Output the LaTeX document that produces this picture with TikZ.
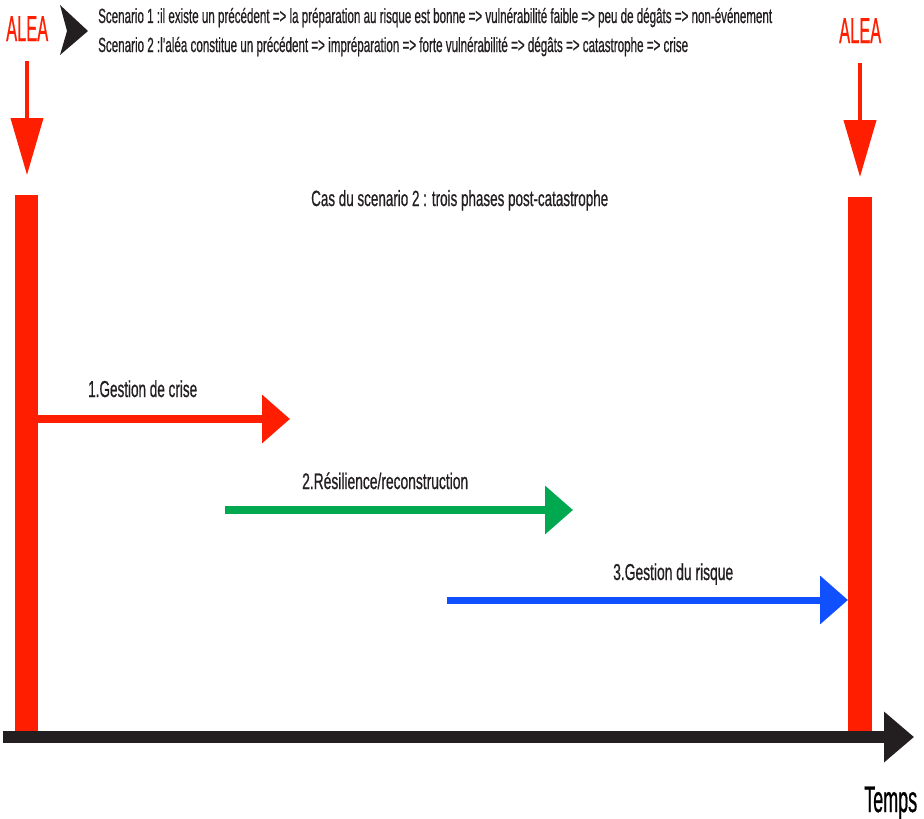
\documentclass[tikz,border=0pt]{standalone}
\usepackage{fontspec}
\usepackage{graphicx}
\setmainfont[FakeBold=0.9]{Liberation Sans}
\usetikzlibrary{arrows.meta}
\definecolor{alred}{RGB}{255,30,0}
\definecolor{algreen}{RGB}{0,168,80}
\definecolor{alblue}{RGB}{16,80,255}
\definecolor{alblack}{RGB}{35,31,32}
\newcommand{\fitw}[2]{\resizebox{#1}{\height}{#2}}
\begin{document}
\begin{tikzpicture}[x=1pt,y=-1pt,
  txt/.style={anchor=base west,inner sep=0pt,text=alblack},
  bar/.style={fill=alred,draw=none,inner sep=0pt,anchor=north west},
  phase/.style={line width=#1pt,-{Triangle[length=28pt,width=47pt]}},
  down/.style={alred,line width=4pt,-{Triangle[length=57pt,width=32pt]}}]
\useasboundingbox (0,0) rectangle (924,819);
% bars
\node[bar,minimum width=23pt,minimum height=536pt] (barL) at (15,195) {};
\node[bar,minimum width=24pt,minimum height=534pt] (barR) at (848,197) {};
% axis
\coordinate (ax0) at (3,737);
\coordinate (ax1) at (914,737);
\draw[alblack,line width=12pt,-{Triangle[length=30pt,width=49pt]}] (ax0) -- (ax1);
\node[txt,text=black] (temps) at (864,812) {\fitw{53pt}{\fontsize{37}{40}\selectfont Temps}};
% ALEA
\node[txt,text=alred] (aleaL) at (6,41) {\fitw{42pt}{\fontsize{36}{40}\selectfont ALEA}};
\node[txt,text=alred] (aleaR) at (839,43) {\fitw{42pt}{\fontsize{36}{40}\selectfont ALEA}};
\coordinate (dL0) at (27,61);
\coordinate (dL1) at (27,175);
\coordinate (dR0) at (860,63);
\coordinate (dR1) at (860,177);
\draw[down] (dL0) -- (dL1);
\draw[down] (dR0) -- (dR1);
% top marker
\fill[alblack] (60,5) -- (88,31) -- (60,55) -- (67,31) -- cycle;
\node[txt] (sc1) at (98,23) {\fitw{674pt}{\fontsize{20.5}{24}\selectfont Scenario 1 :il existe un précédent => la préparation au risque est bonne => vulnérabilité faible => peu de dégâts => non-événement}};
\node[txt] (sc2) at (98,52) {\fitw{590pt}{\fontsize{20.5}{24}\selectfont Scenario 2 :l'aléa constitue un précédent => impréparation => forte vulnérabilité => dégâts => catastrophe => crise}};
\node[txt] (cas) at (311,206) {\fitw{297pt}{\fontsize{22}{26}\selectfont Cas du scenario 2 : trois phases post-catastrophe}};
% phases
\coordinate (p1e) at (290,419);
\draw[alred,phase=8] (barL.east |- p1e) -- (p1e);
\node[txt] (l1) at (88,397) {\fitw{109pt}{\fontsize{23}{26}\selectfont 1.Gestion de crise}};
\coordinate (p2s) at (225,510);
\coordinate (p2e) at (573,510);
\draw[algreen,phase=8] (p2s) -- (p2e);
\node[txt] (l2) at (302,489) {\fitw{166pt}{\fontsize{22.5}{26}\selectfont 2.Résilience/reconstruction}};
\coordinate (p3s) at (447,600);
\draw[alblue,phase=7] (p3s) -- (barR.west |- p3s);
\node[txt] (l3) at (613,580) {\fitw{120pt}{\fontsize{23}{26}\selectfont 3.Gestion du risque}};
\end{tikzpicture}
\end{document}
